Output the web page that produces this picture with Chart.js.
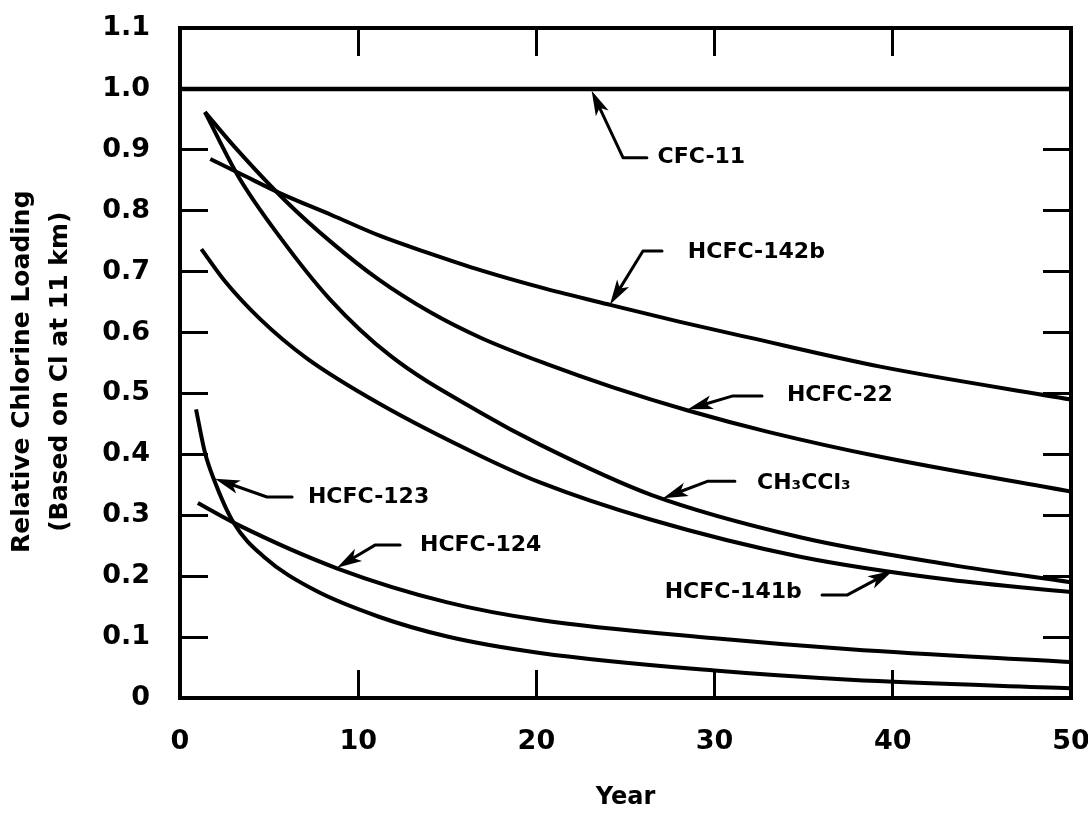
<!DOCTYPE html>
<html><head><meta charset="utf-8">
<script src="https://cdn.jsdelivr.net/npm/chart.js@4.4.1/dist/chart.umd.min.js"></script>
<style>html,body{margin:0;padding:0;background:#fff}#wrap{width:1088px;height:818px}</style>
</head><body><div id="wrap"><canvas id="c" width="1088" height="818"></canvas></div>
<script>
// ---- tick labels ----
const xTickLabels = ['0', '10', '20', '30', '40', '50'];
const yTickLabels = ['0', '0.1', '0.2', '0.3', '0.4', '0.5', '0.6', '0.7', '0.8', '0.9', '1.0', '1.1'];

// ---- series (year, relative chlorine loading) ----
const cfc11Years = [0, 50];
const cfc11Values = [1.0, 1.0];

const hcfc142bYears = [1.7, 3.5, 5.6, 8.5, 11.2, 14, 16.9, 20.5, 24.2, 28, 31.9, 39.3, 50];
const hcfc142bValues = [0.885, 0.859, 0.829, 0.793, 0.759, 0.730, 0.702, 0.672, 0.645, 0.618, 0.592, 0.544, 0.490];

const hcfc22Years = [1.4, 3, 6, 8.5, 11.1, 14, 16.9, 20.6, 24.3, 28.5, 33, 39.3, 50];
const hcfc22Values = [0.962, 0.907, 0.814, 0.748, 0.688, 0.634, 0.591, 0.548, 0.510, 0.472, 0.437, 0.396, 0.339];

const ch3ccl3Years = [1.4, 3.3, 5.6, 8.4, 11.8, 16.9, 20.2, 26.4, 34.8, 43.2, 50];
const ch3ccl3Values = [0.962, 0.855, 0.757, 0.655, 0.562, 0.468, 0.416, 0.334, 0.264, 0.219, 0.190];

const hcfc141bYears = [1.2, 2.5, 4.5, 7.1, 11.2, 16.9, 20.2, 26.4, 34.8, 43.2, 50];
const hcfc141bValues = [0.737, 0.685, 0.622, 0.558, 0.483, 0.397, 0.354, 0.293, 0.232, 0.194, 0.174];

const hcfc124Years = [1.0, 3.2, 8.8, 15, 20.2, 30, 37.6, 50];
const hcfc124Values = [0.320, 0.285, 0.213, 0.157, 0.128, 0.098, 0.080, 0.059];

const hcfc123Years = [0.9, 1.4, 1.9, 3.0, 4.7, 7.5, 11.2, 15, 20.2, 30, 37.6, 50];
const hcfc123Values = [0.474, 0.403, 0.359, 0.288, 0.232, 0.178, 0.133, 0.101, 0.074, 0.045, 0.030, 0.016];

const seriesNames = ['CFC-11', 'HCFC-142b', 'HCFC-22', 'CH₃CCl₃', 'HCFC-141b', 'HCFC-124', 'HCFC-123'];
const seriesYears = [cfc11Years, hcfc142bYears, hcfc22Years, ch3ccl3Years, hcfc141bYears, hcfc124Years, hcfc123Years];
const seriesValues = [cfc11Values, hcfc142bValues, hcfc22Values, ch3ccl3Values, hcfc141bValues, hcfc124Values, hcfc123Values];

// ---- callout placement (data units): text anchor + leader path ending at arrow tip ----
const callouts = [
  {name: 'CFC-11',    at: [26.8, 0.887], path: [[26.2, 0.887], [24.86, 0.887], [23.1, 0.997]]},
  {name: 'HCFC-142b', at: [28.5, 0.732], path: [[27.05, 0.734], [25.98, 0.734], [24.13, 0.646]]},
  {name: 'HCFC-22',   at: [34.06, 0.497], path: [[32.66, 0.496], [31.03, 0.496], [28.5, 0.474]]},
  {name: 'CH₃CCl₃',   at: [32.38, 0.353], path: [[31.14, 0.356], [29.63, 0.356], [27.1, 0.328]]},
  {name: 'HCFC-141b', at: [27.2, 0.174], path: [[36.03, 0.169], [37.43, 0.169], [40.0, 0.209]]},
  {name: 'HCFC-123',  at: [7.18, 0.330], path: [[6.29, 0.330], [4.88, 0.330], [1.96, 0.360]]},
  {name: 'HCFC-124',  at: [13.47, 0.251], path: [[12.35, 0.251], [10.94, 0.251], [8.81, 0.214]]}
];

const calloutPlugin = {
  id: 'callouts',
  afterDatasetsDraw(chart) {
    const {ctx} = chart;
    const xs = chart.scales.x, ys = chart.scales.y;
    ctx.save();
    ctx.strokeStyle = '#000';
    ctx.fillStyle = '#000';
    ctx.lineWidth = 3;
    ctx.lineJoin = 'round';
    ctx.lineCap = 'round';
    callouts.forEach(c => {
      const pts = c.path.map(p => [xs.getPixelForValue(p[0]), ys.getPixelForValue(p[1])]);
      const [tx, ty] = pts[pts.length - 1];
      const [px, py] = pts[pts.length - 2];
      const ang = Math.atan2(ty - py, tx - px);
      const L = 25, W = 7;
      const cs = Math.cos(ang), sn = Math.sin(ang);
      ctx.beginPath();
      ctx.moveTo(pts[0][0], pts[0][1]);
      for (let i = 1; i < pts.length - 1; i++) ctx.lineTo(pts[i][0], pts[i][1]);
      ctx.lineTo(tx - L * 0.7 * cs, ty - L * 0.7 * sn);
      ctx.stroke();
      ctx.beginPath();
      ctx.moveTo(tx, ty);
      ctx.lineTo(tx - L * cs + W * sn, ty - L * sn - W * cs);
      ctx.lineTo(tx - L * 0.75 * cs, ty - L * 0.75 * sn);
      ctx.lineTo(tx - L * cs - W * sn, ty - L * sn + W * cs);
      ctx.closePath();
      ctx.fill();
      ctx.font = 'bold 22px "DejaVu Sans"';
      ctx.textAlign = 'left';
      ctx.textBaseline = 'middle';
      ctx.fillText(c.name, xs.getPixelForValue(c.at[0]), ys.getPixelForValue(c.at[1]));
    });
    ctx.restore();
  }
};

Chart.defaults.font.family = '"DejaVu Sans", sans-serif';
Chart.defaults.color = '#000';

const datasets = seriesNames.map((n, i) => ({
  label: n,
  data: seriesYears[i].map((yr, j) => ({x: yr, y: seriesValues[i][j]})),
  borderColor: '#000',
  borderWidth: i === 0 ? 4.5 : 4,
  pointRadius: 0,
  fill: false,
  cubicInterpolationMode: 'monotone'
}));

const inwardGrid = {display: true, drawOnChartArea: false, drawTicks: true, tickLength: -28, color: '#000', lineWidth: 3};
const axisBorder = {display: true, width: 4, color: '#000'};
function noPad(s) { s.paddingLeft = 0; s.paddingRight = 0; s.paddingTop = 0; s.paddingBottom = 0; }

new Chart(document.getElementById('c'), {
  type: 'line',
  data: {datasets},
  plugins: [calloutPlugin],
  options: {
    responsive: false,
    animation: false,
    devicePixelRatio: 1,
    layout: {padding: {top: 28, right: 17, left: 0, bottom: 0}},
    plugins: {legend: {display: false}, tooltip: {enabled: false}},
    scales: {
      x: {
        type: 'linear', position: 'bottom', min: 0, max: 50,
        afterFit(s) { s.height = 120; noPad(s); },
        grid: inwardGrid, border: axisBorder,
        ticks: {stepSize: 10, autoSkip: false, maxRotation: 0, padding: 56,
          font: {size: 27, weight: 'bold'}, color: '#000',
          callback: (v, i) => xTickLabels[i]},
        title: {display: true, text: 'Year', color: '#000',
          font: {size: 24, weight: 'bold'}, padding: {top: 0, bottom: 6}}
      },
      x2: {
        type: 'linear', position: 'top', min: 0, max: 50,
        afterFit(s) { s.height = 0; noPad(s); },
        grid: inwardGrid, border: axisBorder,
        ticks: {display: false, stepSize: 10}
      },
      y: {
        type: 'linear', position: 'left', min: 0, max: 1.1,
        afterFit(s) { s.width = 180; noPad(s); },
        grid: inwardGrid, border: axisBorder,
        ticks: {stepSize: 0.1, autoSkip: false, padding: 58,
          font: {size: 27, weight: 'bold'}, color: '#000',
          callback: (v, i) => yTickLabels[i]},
        title: {display: true, text: ['Relative Chlorine Loading\u00A0\u00A0', '(Based on Cl at 11 km)\u00A0\u00A0'], color: '#000',
          font: {size: 25, weight: 'bold', lineHeight: 1.5}, padding: {top: 4, bottom: 0}}
      },
      y2: {
        type: 'linear', position: 'right', min: 0, max: 1.1,
        afterFit(s) { s.width = 0; noPad(s); },
        grid: inwardGrid, border: axisBorder,
        ticks: {display: false, stepSize: 0.1}
      }
    }
  }
});
</script></body></html>
